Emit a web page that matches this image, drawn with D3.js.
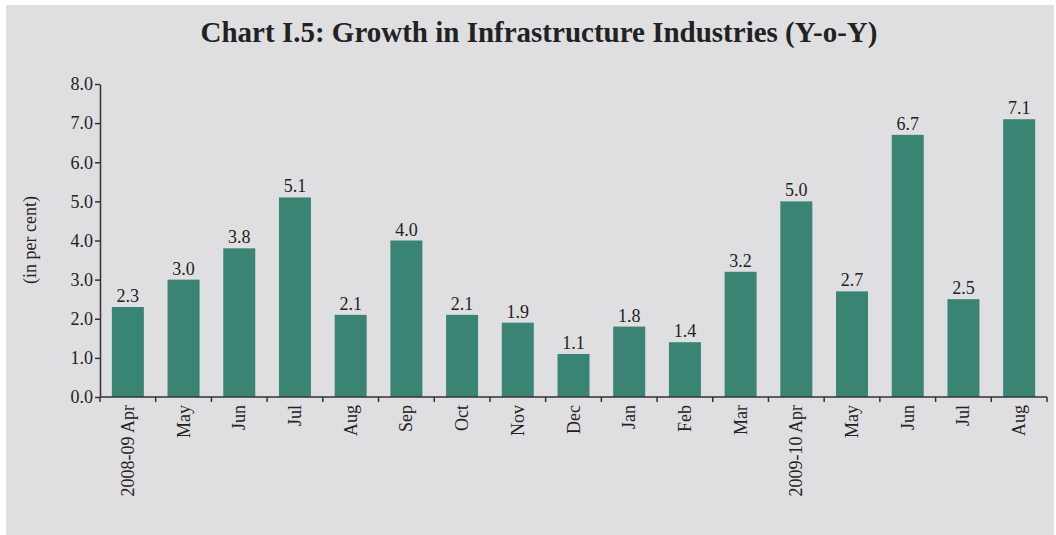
<!DOCTYPE html>
<html><head><meta charset="utf-8">
<script src="https://cdn.jsdelivr.net/npm/d3@7"></script>
<style>
body{margin:0;background:#fff;}
svg{display:block;}
text{font-family:"Liberation Serif","Times New Roman",serif;fill:#222;}
</style></head>
<body>
<svg id="chart" width="1056" height="535"></svg>
<script>
const categories = ["2008-09 Apr","May","Jun","Jul","Aug","Sep","Oct","Nov","Dec","Jan","Feb","Mar","2009-10 Apr","May","Jun","Jul","Aug"];
const values = [2.3,3.0,3.8,5.1,2.1,4.0,2.1,1.9,1.1,1.8,1.4,3.2,5.0,2.7,6.7,2.5,7.1];
const yTicks = [0,1,2,3,4,5,6,7,8];
const title = "Chart I.5: Growth in Infrastructure Industries (Y-o-Y)";
const yLabel = "(in per cent)";

(function(){
const svg = d3.select("#chart");
svg.append("rect").attr("x",6).attr("y",5).attr("width",1048).attr("height",530).attr("fill","#dfdfe1");

const pL=100,pR=1047,pT=84,pB=397;
const x = d3.scaleBand().domain(d3.range(categories.length)).range([pL,pR]).padding(0);
const y = d3.scaleLinear().domain([0,8]).range([pB,pT]);
const bw = 32;

svg.append("text").attr("x",539).attr("y",42).attr("text-anchor","middle")
  .style("font-size","29px").style("font-weight","bold").text(title);

svg.append("text").attr("transform","translate(36,240) rotate(-90)").attr("text-anchor","middle")
  .style("font-size","18px").text(yLabel);

svg.selectAll("rect.bar").data(values).enter().append("rect").attr("class","bar")
  .attr("x",(d,i)=>x(i)+(x.bandwidth()-bw)/2).attr("width",bw)
  .attr("y",d=>y(d)).attr("height",d=>y(0)-y(d)).attr("fill","#3a8474");

svg.selectAll("text.val").data(values).enter().append("text").attr("class","val")
  .attr("x",(d,i)=>x(i)+x.bandwidth()/2).attr("y",d=>y(d)-5).attr("text-anchor","middle")
  .style("font-size","18px").text(d=>d.toFixed(1));

const yAxis = d3.axisLeft(y).tickValues(yTicks).tickFormat(d3.format(".1f")).tickSize(5).tickSizeOuter(0).tickPadding(2);
const gy = svg.append("g").attr("transform",`translate(${pL},0)`).call(yAxis);
gy.select(".domain").attr("stroke","#333").attr("stroke-width",1.5);
gy.selectAll(".tick line").attr("stroke","#333").attr("stroke-width",1.5);
gy.selectAll(".tick text").style("font-family","Liberation Serif, serif").style("font-size","18px").attr("fill","#222");

const gx = svg.append("g").attr("transform",`translate(0,${pB})`);
gx.append("line").attr("x1",pL).attr("x2",pR).attr("stroke","#333").attr("stroke-width",1.5);
const bounds = d3.range(categories.length+1).map(i=> i<categories.length? x(i) : pR);
gx.selectAll("line.tk").data(bounds).enter().append("line").attr("class","tk")
  .attr("x1",d=>d).attr("x2",d=>d).attr("y1",0).attr("y2",5).attr("stroke","#333").attr("stroke-width",1.5);
gx.selectAll("text.cat").data(categories).enter().append("text").attr("class","cat")
  .attr("transform",(d,i)=>`translate(${x(i)+x.bandwidth()/2+6},8) rotate(-90)`)
  .attr("text-anchor","end").style("font-size","18px").text(d=>d);
})();
</script>
</body></html>
